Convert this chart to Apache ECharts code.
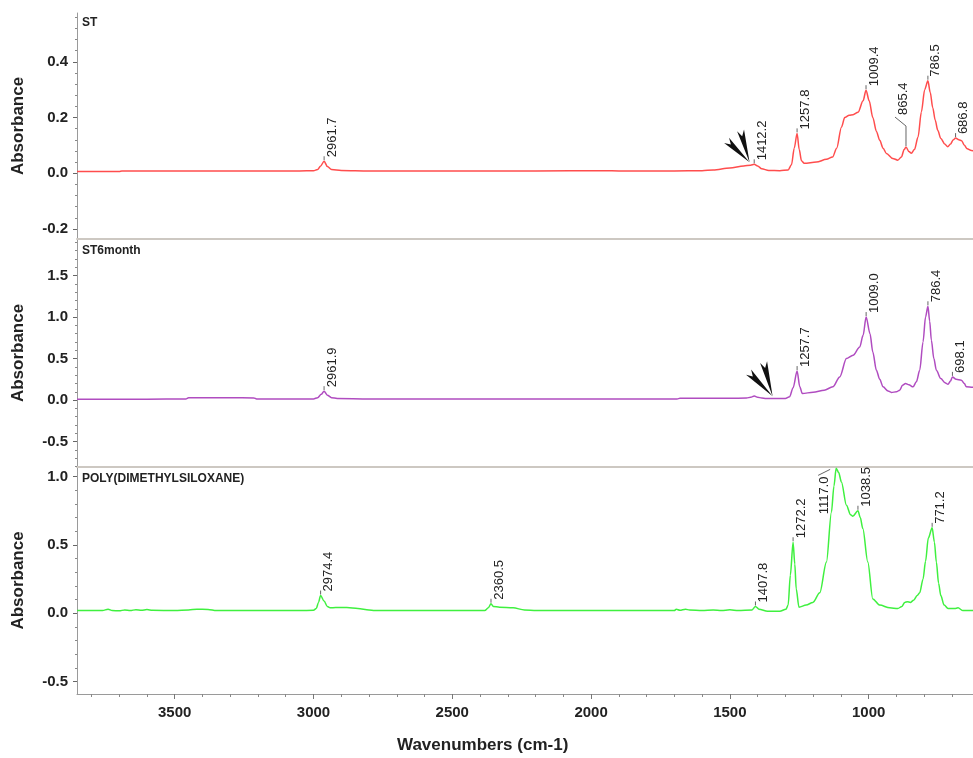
<!DOCTYPE html>
<html><head><meta charset="utf-8">
<script src="https://cdn.jsdelivr.net/npm/echarts@6/dist/echarts.min.js"></script>
<style>html,body{margin:0;padding:0;background:#fff}#c{width:973px;height:758px}</style>
</head><body><div id="c"></div>
<script>
// ---- data ----
const xTicks = [1000, 1500, 2000, 2500, 3000, 3500];
const xMinorTicks = [700,800,900,1100,1200,1300,1400,1600,1700,1800,1900,2100,2200,2300,2400,2600,2700,2800,2900,3100,3200,3300,3400,3600,3700,3800];
const yTicksST = [-0.2, 0, 0.2, 0.4];
const yMinorST = [-0.16,-0.12,-0.08,-0.04,0.04,0.08,0.12,0.16,0.24,0.28,0.32,0.36,0.44,0.48,0.52,0.56];
const yTicksST6 = [-0.5, 0, 0.5, 1.0, 1.5];
const yMinorST6 = [-0.8,-0.7,-0.6,-0.4,-0.3,-0.2,-0.1,0.1,0.2,0.3,0.4,0.6,0.7,0.8,0.9,1.1,1.2,1.3,1.4,1.6,1.7,1.8,1.9];
const yTicksPDMS = [-0.5, 0, 0.5, 1.0];
const yMinorPDMS = [-0.4,-0.3,-0.2,-0.1,0.1,0.2,0.3,0.4,0.6,0.7,0.8,0.9];

const panelNames = ['ST', 'ST6month', 'POLY(DIMETHYLSILOXANE)'];

const stData = [[3852,0.006],[3760,0.006],[3700,0.006],[3690,0.008],[3600,0.008],[3400,0.008],[3200,0.008],[3050,0.008],[3000,0.009],[2985,0.013],[2975,0.025],[2961.7,0.043],[2950,0.024],[2935,0.013],[2900,0.01],[2800,0.008],[2500,0.008],[2200,0.008],[1950,0.009],[1900,0.008],[1700,0.008],[1600,0.009],[1560,0.012],[1500,0.019],[1450,0.026],[1425,0.029],[1412.2,0.032],[1400,0.026],[1385,0.016],[1360,0.01],[1320,0.009],[1290,0.012],[1278,0.03],[1268,0.09],[1257.8,0.143],[1250,0.085],[1242,0.045],[1232,0.036],[1188,0.04],[1152,0.05],[1130,0.058],[1115,0.09],[1098,0.165],[1086,0.2],[1070,0.208],[1056,0.21],[1038,0.219],[1020,0.26],[1009.4,0.298],[998,0.26],[985,0.2],[972,0.15],[960,0.118],[948,0.09],[936,0.071],[913,0.053],[895,0.047],[882,0.058],[872,0.085],[865.4,0.094],[855,0.078],[846,0.072],[835,0.085],[822,0.13],[810,0.22],[798,0.3],[786.5,0.332],[778,0.29],[769,0.235],[760,0.19],[751,0.154],[740,0.125],[726,0.105],[715,0.095],[705,0.105],[695,0.12],[686.8,0.126],[675,0.12],[665,0.117],[655,0.1],[645,0.088],[630,0.082],[620,0.08]];

const st6Data = [[3852,0.012],[3600,0.012],[3460,0.013],[3450,0.028],[3300,0.028],[3215,0.027],[3205,0.013],[3050,0.013],[3000,0.015],[2985,0.03],[2972,0.07],[2961.9,0.108],[2950,0.06],[2935,0.03],[2915,0.02],[2800,0.015],[2500,0.015],[2200,0.015],[1900,0.015],[1690,0.015],[1680,0.022],[1500,0.022],[1440,0.025],[1425,0.035],[1412,0.05],[1400,0.035],[1385,0.025],[1370,0.02],[1300,0.02],[1285,0.04],[1272,0.15],[1257.7,0.35],[1248,0.16],[1239,0.08],[1200,0.095],[1160,0.12],[1129,0.16],[1104,0.28],[1080,0.5],[1056,0.54],[1032,0.64],[1020,0.78],[1009.0,1.0],[995,0.8],[985,0.58],[972,0.36],[960,0.25],[948,0.16],[930,0.11],[918,0.093],[900,0.1],[888,0.12],[878,0.18],[867,0.2],[855,0.185],[840,0.16],[828,0.22],[816,0.36],[804,0.7],[795,1.0],[786.4,1.13],[780,0.95],[774,0.72],[765,0.5],[756,0.36],[740,0.26],[725,0.21],[714,0.19],[705,0.23],[698.1,0.28],[685,0.25],[666,0.24],[655,0.2],[648,0.16],[625,0.155],[620,0.155]];

const pdmsData = [[3852,0.02],[3760,0.02],[3740,0.03],[3725,0.02],[3700,0.018],[3680,0.025],[3660,0.02],[3640,0.027],[3620,0.022],[3600,0.028],[3580,0.022],[3500,0.02],[3450,0.025],[3420,0.03],[3380,0.028],[3350,0.02],[3200,0.02],[3050,0.02],[3000,0.022],[2990,0.035],[2982,0.08],[2974.4,0.13],[2962,0.09],[2950,0.05],[2940,0.04],[2920,0.042],[2880,0.042],[2840,0.035],[2800,0.025],[2780,0.02],[2500,0.02],[2383,0.02],[2370,0.04],[2360.5,0.07],[2352,0.05],[2330,0.045],[2281,0.04],[2240,0.025],[2197,0.02],[1900,0.02],[1700,0.02],[1693,0.03],[1680,0.022],[1660,0.03],[1645,0.024],[1600,0.02],[1560,0.025],[1530,0.02],[1500,0.026],[1470,0.02],[1420,0.025],[1407.8,0.05],[1395,0.03],[1364,0.015],[1320,0.015],[1298,0.03],[1290,0.06],[1282,0.28],[1272.2,0.52],[1266,0.36],[1261,0.18],[1251,0.045],[1225,0.06],[1201,0.08],[1176,0.15],[1152,0.375],[1134,0.74],[1125,0.93],[1117.0,1.06],[1108,1.03],[1098,0.96],[1080,0.79],[1065,0.72],[1057,0.71],[1038.5,0.75],[1030,0.7],[1021,0.62],[1003,0.375],[985,0.105],[960,0.06],[924,0.04],[895,0.035],[880,0.05],[870,0.08],[860,0.085],[850,0.08],[838,0.095],[825,0.13],[816,0.15],[804,0.25],[795,0.38],[785,0.55],[771.2,0.625],[763,0.52],[756,0.375],[748,0.22],[740,0.13],[728,0.06],[714,0.035],[690,0.035],[678,0.04],[660,0.02],[620,0.02]];

// peak labels: [wavenumber, absorbance, text, leaderMode]
const stLabels = [[2961.7,0.043,'2961.7',0],[1412.2,0.032,'1412.2',0],[1257.8,0.143,'1257.8',0],[1009.4,0.298,'1009.4',0],[865.4,0.094,'865.4',1],[786.5,0.332,'786.5',0],[686.8,0.126,'686.8',0]];
const st6Labels = [[2961.9,0.108,'2961.9',0],[1257.7,0.35,'1257.7',0],[1009.0,1.0,'1009.0',0],[786.4,1.13,'786.4',0],[698.1,0.28,'698.1',0]];
const pdmsLabels = [[2974.4,0.13,'2974.4',0],[2360.5,0.07,'2360.5',0],[1407.8,0.05,'1407.8',0],[1272.2,0.52,'1272.2',0],[1117.0,1.06,'1117.0',2],[1038.5,0.75,'1038.5',0],[771.2,0.625,'771.2',0]];

// arrow annotation tips
const stArrowTip = [[1429, 0.039]];
const st6ArrowTip = [[1346, 0.048]];

// ---- chart ----
const FONT = '"Liberation Sans", Arial, sans-serif';
const X_MIN = 624, X_MAX = 3852;
const grids = [
  {left: 77, right: 0, top: 13, height: 226},
  {left: 77, right: 0, top: 239, height: 228},
  {left: 77, right: 0, top: 467, height: 227}
];
const yRanges = [[-0.236, 0.575], [-0.805, 1.94], [-0.59, 1.07]];
const yTicks = [yTicksST, yTicksST6, yTicksPDMS];
const yMinors = [yMinorST, yMinorST6, yMinorPDMS];

const xAxes = [0, 1].map(i => ({
  gridIndex: i, type: 'value', min: X_MIN, max: X_MAX, inverse: true, position: 'bottom',
  axisLine: {show: true, onZero: false, lineStyle: {color: '#cdc8c2', width: 2}},
  axisTick: {show: false}, axisLabel: {show: false}, splitLine: {show: false}
}));
xAxes.push({
  gridIndex: 2, type: 'value', min: X_MIN, max: X_MAX, inverse: true, position: 'bottom',
  axisLine: {show: true, onZero: false, lineStyle: {color: '#9a9a9a', width: 1}},
  axisTick: {show: true, length: 5, lineStyle: {color: '#777'}, customValues: xTicks},
  axisLabel: {show: true, customValues: xTicks, margin: 11, color: '#222', fontSize: 15, fontWeight: 'bold', fontFamily: FONT,
    formatter: v => String(v)},
  splitLine: {show: false}
});
xAxes.push({
  gridIndex: 2, type: 'value', min: X_MIN, max: X_MAX, inverse: true, position: 'bottom',
  axisLine: {show: false, onZero: false},
  axisTick: {show: true, length: 3, lineStyle: {color: '#888'}, customValues: xMinorTicks},
  axisLabel: {show: false}, splitLine: {show: false}
});

const yAxes = [];
for (let i = 0; i < 3; i++) {
  yAxes.push({
    gridIndex: i, type: 'value', min: yRanges[i][0], max: yRanges[i][1], position: 'left',
    axisLine: {show: true, onZero: false, lineStyle: {color: '#9a9a9a', width: 1}},
    axisTick: {show: true, length: 4, lineStyle: {color: '#666'}, customValues: yTicks[i]},
    axisLabel: {show: true, customValues: yTicks[i], margin: 9, color: '#222', fontSize: 15, fontWeight: 'bold', fontFamily: FONT,
      formatter: v => Number(v).toFixed(1)},
    splitLine: {show: false},
    name: 'Absorbance', nameLocation: 'middle', nameGap: 50, nameRotate: 90,
    nameTextStyle: {color: '#222', fontSize: 17, fontWeight: 'bold', fontFamily: FONT}
  });
  yAxes.push({
    gridIndex: i, type: 'value', min: yRanges[i][0], max: yRanges[i][1], position: 'left',
    axisLine: {show: false, onZero: false},
    axisTick: {show: true, length: 2, lineStyle: {color: '#888'}, customValues: yMinors[i]},
    axisLabel: {show: false}, splitLine: {show: false}
  });
}

function lineSeries(xi, yi, data, color) {
  return {type: 'line', xAxisIndex: xi, yAxisIndex: yi, data: data, symbol: 'none', showSymbol: false,
    smooth: 0.3, smoothMonotone: 'x', lineStyle: {color: color, width: 1.5}, z: 3, silent: true};
}

function labelSeries(xi, yi, labels, clip) {
  return {
    type: 'custom', xAxisIndex: xi, yAxisIndex: yi, clip: clip, silent: true, z: 4,
    data: labels.map(d => [d[0], d[1]]), encode: {x: 0, y: 1},
    renderItem: function (params, api) {
      const d = labels[params.dataIndex];
      const p = api.coord([d[0], d[1]]);
      let pts, tx, ty;
      if (d[3] === 1) {
        pts = [[p[0], p[1] - 1], [p[0], p[1] - 21], [p[0] - 11, p[1] - 30]];
        tx = p[0] - 3; ty = p[1] - 32;
      } else if (d[3] === 2) {
        pts = [[p[0] - 18, p[1] + 7], [p[0] - 6, p[1] + 1]];
        tx = p[0] - 12; ty = p[1] + 46;
      } else {
        pts = [[p[0], p[1] - 1], [p[0], p[1] - 5]];
        tx = p[0] + 8; ty = p[1] - 4;
      }
      return {type: 'group', children: [
        {type: 'polyline', shape: {points: pts}, style: {stroke: '#666', lineWidth: 1, fill: null}},
        {type: 'text', x: tx, y: ty, rotation: Math.PI / 2,
          style: {text: d[2], fill: '#222', font: '13px ' + FONT, align: 'left', verticalAlign: 'middle'}}
      ]};
    }
  };
}

function arrowSeries(xi, yi, tips, dirs) {
  return {
    type: 'custom', xAxisIndex: xi, yAxisIndex: yi, silent: true, z: 5,
    data: tips, encode: {x: 0, y: 1},
    renderItem: function (params, api) {
      const p = api.coord([api.value(0), api.value(1)]);
      return {type: 'group', children: dirs.map(([dx, dy]) => {
        const L = Math.hypot(dx, dy), ux = dx / L, uy = dy / L, nx = -uy, ny = ux, w = 3.6;
        const tail = [p[0] + dx, p[1] + dy];
        const notch = [p[0] + ux * (L - 6), p[1] + uy * (L - 6)];
        return {type: 'polygon', shape: {points: [[p[0], p[1]], [tail[0] + nx * w, tail[1] + ny * w], notch, [tail[0] - nx * w, tail[1] - ny * w]]},
          style: {fill: '#111'}};
      })};
    }
  };
}

const titleStyle = {color: '#222', fontSize: 12, fontWeight: 'bold', fontFamily: FONT};
const option = {
  animation: false,
  backgroundColor: '#fff',
  title: [
    {text: panelNames[0], left: 82, top: 17, padding: 0, textStyle: titleStyle},
    {text: panelNames[1], left: 82, top: 245, padding: 0, textStyle: titleStyle},
    {text: panelNames[2], left: 82, top: 473, padding: 0, textStyle: titleStyle},
    {text: 'Wavenumbers (cm-1)', left: 397, top: 737, padding: 0,
      textStyle: {color: '#222', fontSize: 17, fontWeight: 'bold', fontFamily: FONT}}
  ],
  grid: grids,
  xAxis: xAxes,
  yAxis: yAxes,
  series: [
    lineSeries(0, 0, stData, '#ff4d4d'),
    lineSeries(1, 2, st6Data, '#b04cc0'),
    lineSeries(2, 4, pdmsData, '#3ff03f'),
    labelSeries(0, 0, stLabels, false),
    labelSeries(1, 2, st6Labels, false),
    labelSeries(2, 4, pdmsLabels, true),
    arrowSeries(0, 0, stArrowTip, [[-23, -22], [-9, -32]]),
    arrowSeries(1, 2, st6ArrowTip, [[-24, -24], [-9, -34]])
  ]
};
const chart = echarts.init(document.getElementById('c'), null, {renderer: 'canvas'});
chart.setOption(option);
</script></body></html>
